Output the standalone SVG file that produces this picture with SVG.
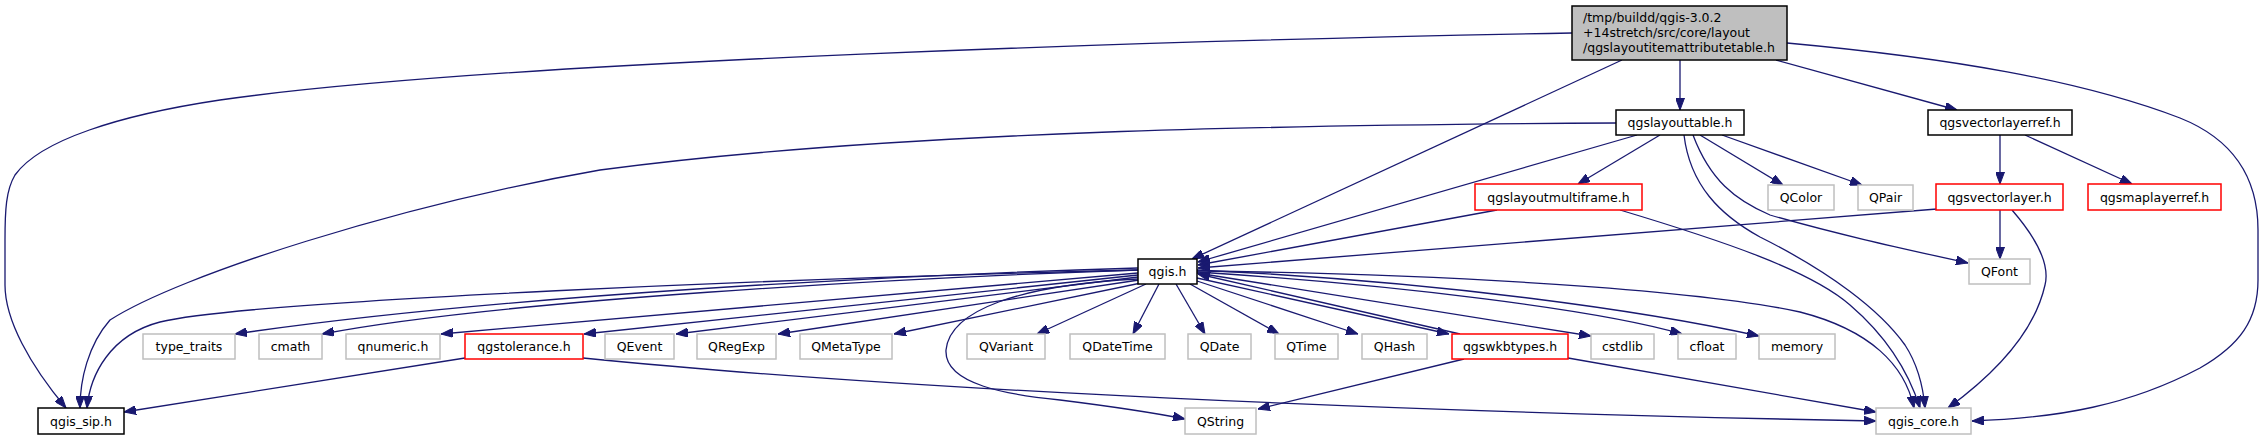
<svg xmlns="http://www.w3.org/2000/svg" width="2264" height="440" viewBox="0 0 2264 440">
<style>
.n rect{fill:#fff;stroke:#000;stroke-width:1.5}
.n.main rect{fill:#bfbfbf}
.n.red rect{stroke:#ff0000}
.n.ext rect{stroke:#bfbfbf}
.n text{font-family:"DejaVu Sans",sans-serif;font-size:12.5px;fill:#000;text-anchor:middle}
.n.main text{text-anchor:start}
#edges path{fill:none;stroke:#191970;stroke-width:1.3;marker-end:url(#arr)}
</style>
<defs>
<marker id="arr" viewBox="0 0 12 9" refX="12" refY="4.5" markerWidth="12" markerHeight="9" markerUnits="userSpaceOnUse" orient="auto">
<path d="M0,0 L12,4.5 L0,9 z" fill="#191970" stroke="#191970" stroke-width="1"/>
</marker>
</defs>
<rect width="2264" height="440" fill="#fff"/>
<g id="edges">
<path d="M1572,33 C1200,40 500,60 220,100 C120,115 40,140 15,175 C6,190 5,210 5,240 L5,285 C5,320 30,365 66,408"/>
<path d="M1680,60 L1680,110"/>
<path d="M1776,60 L1957,110"/>
<path d="M1622,60 L1192,259"/>
<path d="M1787,43 C1950,58 2080,80 2180,118 C2235,140 2258,180 2258,230 L2258,280 C2258,320 2240,345 2200,368 C2130,405 2060,418 1972,421"/>
<path d="M1616,123 C1300,125 900,130 600,170 C400,205 180,275 110,320 C88,345 80,380 80,408"/>
<path d="M1660,135 L1578,184"/>
<path d="M1700,135 L1783,185"/>
<path d="M1722,135 L1862,185"/>
<path d="M1693,135 C1710,180 1735,200 1770,215 C1840,235 1900,248 1968,263"/>
<path d="M1684,135 C1690,185 1720,215 1760,237 C1830,272 1880,310 1905,345 C1918,365 1923,385 1925,408"/>
<path d="M1637,135 L1198,262"/>
<path d="M1497,210 L1198,265"/>
<path d="M1620,210 C1720,240 1810,270 1850,305 C1885,335 1908,370 1920,408"/>
<path d="M2000,135 L2000,184"/>
<path d="M2025,135 L2132,184"/>
<path d="M2000,210 L2000,259"/>
<path d="M1937,209 L1198,268"/>
<path d="M2012,210 C2038,240 2050,265 2045,285 C2035,330 2000,370 1948,408"/>
<path d="M1138,270 C800,278 250,300 160,322 C110,335 90,375 87,408"/>
<path d="M1138,268 C900,275 500,295 235,334"/>
<path d="M1138,270 C900,278 500,300 322,334"/>
<path d="M1138,273 L441,334"/>
<path d="M1138,275 L584,334"/>
<path d="M1138,277 L676,334"/>
<path d="M1139,280 L778,334"/>
<path d="M1141,283 L894,334"/>
<path d="M1146,284 L1037,334"/>
<path d="M1159,284 L1133,334"/>
<path d="M1176,284 L1205,334"/>
<path d="M1190,284 L1279,334"/>
<path d="M1197,281 L1358,334"/>
<path d="M1197,278 L1449,334"/>
<path d="M1460,334 L1198,274"/>
<path d="M1197,273 L1591,336"/>
<path d="M1197,272 C1400,285 1600,310 1682,334"/>
<path d="M1197,270 C1450,282 1650,312 1759,336"/>
<path d="M1197,271 C1450,274 1700,290 1800,312 C1870,330 1905,365 1914,408"/>
<path d="M1138,279 C1020,285 950,310 946,350 C944,385 1010,395 1060,400 C1100,405 1150,412 1185,419"/>
<path d="M1464,359 L1258,409"/>
<path d="M1568,358 L1876,412"/>
<path d="M465,358 L124,412"/>
<path d="M583,358 C900,390 1400,412 1876,421"/>
</g>
<g id="n_main" class="n main"><rect x="1572" y="6" width="215" height="54"/><text x="1583" y="22">/tmp/buildd/qgis-3.0.2</text><text x="1583" y="37">+14stretch/src/core/layout</text><text x="1583" y="52">/qgslayoutitemattributetable.h</text></g>
<g id="n_qgslayouttable" class="n"><rect x="1616" y="110" width="128" height="25"/><text x="1680" y="127">qgslayouttable.h</text></g>
<g id="n_qgsvectorlayerref" class="n"><rect x="1928" y="110" width="144" height="25"/><text x="2000" y="127">qgsvectorlayerref.h</text></g>
<g id="n_qgslayoutmultiframe" class="n red"><rect x="1475" y="184" width="167" height="26"/><text x="1558.5" y="201.5">qgslayoutmultiframe.h</text></g>
<g id="n_QColor" class="n ext"><rect x="1768" y="185" width="66" height="25"/><text x="1801" y="202">QColor</text></g>
<g id="n_QPair" class="n ext"><rect x="1858" y="185" width="55" height="25"/><text x="1885.5" y="202">QPair</text></g>
<g id="n_qgsvectorlayer" class="n red"><rect x="1936" y="184" width="127" height="26"/><text x="1999.5" y="201.5">qgsvectorlayer.h</text></g>
<g id="n_qgsmaplayerref" class="n red"><rect x="2088" y="184" width="133" height="26"/><text x="2154.5" y="201.5">qgsmaplayerref.h</text></g>
<g id="n_qgis" class="n"><rect x="1138" y="259" width="59" height="25"/><text x="1167.5" y="276">qgis.h</text></g>
<g id="n_QFont" class="n ext"><rect x="1969" y="259" width="61" height="25"/><text x="1999.5" y="276">QFont</text></g>
<g id="n_type_traits" class="n ext"><rect x="143" y="334" width="92" height="25"/><text x="189" y="351">type_traits</text></g>
<g id="n_cmath" class="n ext"><rect x="259" y="334" width="63" height="25"/><text x="290.5" y="351">cmath</text></g>
<g id="n_qnumeric" class="n ext"><rect x="346" y="334" width="94" height="25"/><text x="393" y="351">qnumeric.h</text></g>
<g id="n_qgstolerance" class="n red"><rect x="465" y="334" width="118" height="25"/><text x="524" y="351">qgstolerance.h</text></g>
<g id="n_QEvent" class="n ext"><rect x="605" y="334" width="69" height="25"/><text x="639.5" y="351">QEvent</text></g>
<g id="n_QRegExp" class="n ext"><rect x="697" y="334" width="79" height="25"/><text x="736.5" y="351">QRegExp</text></g>
<g id="n_QMetaType" class="n ext"><rect x="800" y="334" width="92" height="25"/><text x="846" y="351">QMetaType</text></g>
<g id="n_QVariant" class="n ext"><rect x="967" y="334" width="78" height="25"/><text x="1006" y="351">QVariant</text></g>
<g id="n_QDateTime" class="n ext"><rect x="1070" y="334" width="95" height="25"/><text x="1117.5" y="351">QDateTime</text></g>
<g id="n_QDate" class="n ext"><rect x="1188" y="334" width="63" height="25"/><text x="1219.5" y="351">QDate</text></g>
<g id="n_QTime" class="n ext"><rect x="1275" y="334" width="63" height="25"/><text x="1306.5" y="351">QTime</text></g>
<g id="n_QHash" class="n ext"><rect x="1362" y="334" width="65" height="25"/><text x="1394.5" y="351">QHash</text></g>
<g id="n_qgswkbtypes" class="n red"><rect x="1452" y="334" width="116" height="25"/><text x="1510" y="351">qgswkbtypes.h</text></g>
<g id="n_cstdlib" class="n ext"><rect x="1591" y="334" width="63" height="25"/><text x="1622.5" y="351">cstdlib</text></g>
<g id="n_cfloat" class="n ext"><rect x="1678" y="334" width="58" height="25"/><text x="1707" y="351">cfloat</text></g>
<g id="n_memory" class="n ext"><rect x="1759" y="334" width="76" height="25"/><text x="1797" y="351">memory</text></g>
<g id="n_qgis_sip" class="n"><rect x="38" y="408" width="86" height="26"/><text x="81" y="425.5">qgis_sip.h</text></g>
<g id="n_QString" class="n ext"><rect x="1185" y="408" width="71" height="26"/><text x="1220.5" y="425.5">QString</text></g>
<g id="n_qgis_core" class="n ext"><rect x="1876" y="408" width="95" height="26"/><text x="1923.5" y="425.5">qgis_core.h</text></g>
</svg>
